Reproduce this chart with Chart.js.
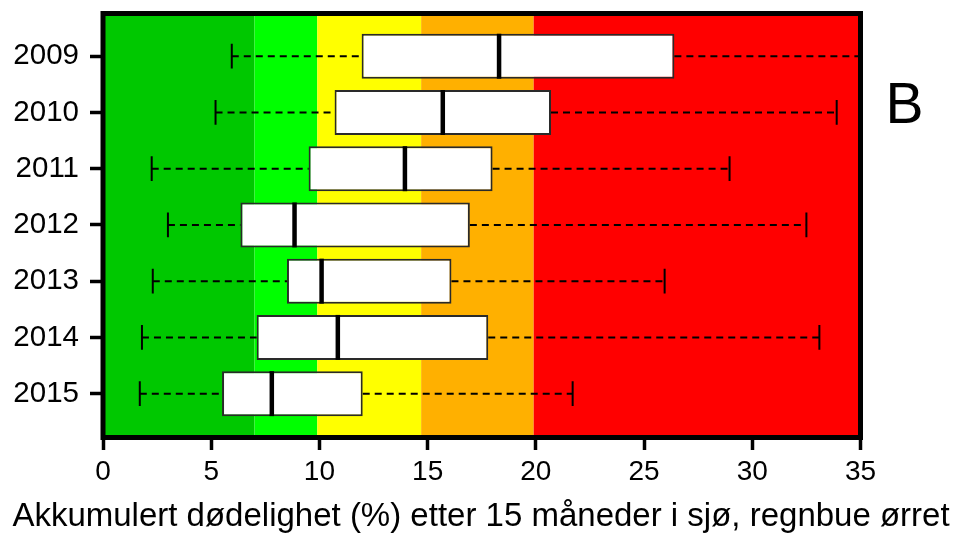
<!DOCTYPE html>
<html>
<head>
<meta charset="utf-8">
<script src="https://cdn.jsdelivr.net/npm/chart.js@4.4.1/dist/chart.umd.min.js"></script>
<style>
  html, body { margin: 0; padding: 0; background: #fff; }
  canvas { display: block; }
</style>
</head>
<body>
<canvas id="chart" width="955" height="535"></canvas>
<script>
// Accumulated mortality (%) after 15 months at sea, rainbow trout, per year class
const years       = ['2009', '2010', '2011', '2012', '2013', '2014', '2015'];
const whiskerLow  = [5.95, 5.2, 2.25, 3.0, 2.3, 1.8, 1.7];
const q1          = [11.95, 10.7, 9.5, 6.35, 8.5, 7.1, 5.5];
const median      = [18.3, 15.7, 13.95, 8.85, 10.1, 10.85, 7.8];
const q3          = [26.4, 20.7, 18.0, 16.95, 16.1, 17.8, 12.0];
const whiskerHigh = [36.5, 33.9, 28.95, 32.5, 25.95, 33.1, 21.7];

// Risk zones along the mortality axis
const bandEdges  = [0, 7, 9.9, 14.7, 19.9, 35];
const bandColors = ['#00c800', '#00ff00', '#ffff00', '#ffb000', '#ff0000'];

const xTicks     = [0, 5, 10, 15, 20, 25, 30, 35];
const panelLabel = 'B';
const xTitle     = 'Akkumulert dødelighet (%) etter 15 måneder i sjø, regnbue ørret';

const FONT = "'Liberation Sans', Arial, sans-serif";

const boxExtras = {
  id: 'boxExtras',
  beforeDatasetsDraw(chart) {
    const { ctx, chartArea: a, scales: { x, y } } = chart;
    ctx.save();
    // coloured zones
    for (let i = 0; i < bandColors.length; i++) {
      const x0 = x.getPixelForValue(bandEdges[i]);
      const x1 = x.getPixelForValue(bandEdges[i + 1]);
      ctx.fillStyle = bandColors[i];
      ctx.fillRect(x0, a.top, x1 - x0, a.bottom - a.top);
    }
    // whiskers (dashed) with end caps
    ctx.beginPath();
    ctx.rect(a.left, a.top, a.right - a.left, a.bottom - a.top);
    ctx.clip();
    ctx.strokeStyle = '#000';
    ctx.lineWidth = 2;
    years.forEach((_, i) => {
      const yc = y.getPixelForValue(i);
      const capHalf = Math.abs(y.getPixelForValue(i + 0.22) - yc);
      const xl = x.getPixelForValue(whiskerLow[i]);
      const xq1 = x.getPixelForValue(q1[i]);
      const xq3 = x.getPixelForValue(q3[i]);
      const xh = x.getPixelForValue(whiskerHigh[i]);
      ctx.setLineDash([7, 5]);
      ctx.beginPath();
      ctx.moveTo(xl, yc); ctx.lineTo(xq1, yc);
      ctx.moveTo(xq3, yc); ctx.lineTo(xh, yc);
      ctx.stroke();
      ctx.setLineDash([]);
      ctx.beginPath();
      ctx.moveTo(xl, yc - capHalf); ctx.lineTo(xl, yc + capHalf);
      ctx.moveTo(xh, yc - capHalf); ctx.lineTo(xh, yc + capHalf);
      ctx.stroke();
    });
    ctx.restore();
  },
  afterDatasetsDraw(chart) {
    const { ctx, scales: { x, y } } = chart;
    const meta = chart.getDatasetMeta(0);
    ctx.save();
    ctx.strokeStyle = '#000';
    ctx.lineWidth = 4.5;
    years.forEach((_, i) => {
      const bar = meta.data[i];
      const yc = y.getPixelForValue(i);
      const half = bar.height / 2;
      const xm = x.getPixelForValue(median[i]);
      ctx.beginPath();
      ctx.moveTo(xm, yc - half);
      ctx.lineTo(xm, yc + half);
      ctx.stroke();
    });
    ctx.restore();
  },
  afterDraw(chart) {
    const { ctx, chartArea: a } = chart;
    ctx.save();
    ctx.strokeStyle = '#000';
    ctx.lineWidth = 5;
    ctx.strokeRect(a.left, a.top, a.right - a.left, a.bottom - a.top);
    ctx.fillStyle = '#000';
    ctx.textAlign = 'center';
    ctx.textBaseline = 'alphabetic';
    ctx.font = '57px ' + FONT;
    ctx.fillText(panelLabel, 904.5, 123);
    // axis title, wider than the plot area, so drawn here without squeezing
    ctx.font = '33px ' + FONT;
    ctx.fillText(xTitle, 481, 525.5);
    ctx.restore();
  }
};

new Chart(document.getElementById('chart'), {
  type: 'bar',
  data: {
    datasets: [{
      data: years.map((_, i) => ({ x: [q1[i], q3[i]], y: i })),
      backgroundColor: '#ffffff',
      borderColor: '#2a2a2a',
      borderWidth: 2,
      borderSkipped: false,
      barPercentage: 0.8,
      categoryPercentage: 1.0
    }]
  },
  options: {
    indexAxis: 'y',
    responsive: false,
    animation: false,
    events: [],
    layout: { padding: { top: 13.5, right: 94.5, left: 0, bottom: 0 } },
    plugins: { legend: { display: false }, tooltip: { enabled: false } },
    scales: {
      x: {
        type: 'linear',
        min: xTicks[0],
        max: xTicks[xTicks.length - 1],
        afterBuildTicks: (s) => { s.ticks = xTicks.map(v => ({ value: v })); },
        afterFit: (s) => { s.height = 97.5; s.paddingLeft = 0; s.paddingRight = 0; },
        grid: { drawOnChartArea: false, tickLength: 12.5, tickWidth: 3.5, tickColor: '#000' },
        border: { display: false },
        ticks: { color: '#000', padding: 5, font: { family: FONT, size: 28 } }
      },
      y: {
        type: 'linear',
        reverse: true,
        offset: false,
        min: -0.76,
        max: 6.78,
        afterBuildTicks: (s) => { s.ticks = years.map((_, i) => ({ value: i })); },
        afterFit: (s) => { s.width = 103; s.paddingTop = 0; s.paddingBottom = 0; },
        grid: { offset: false, drawOnChartArea: false, tickLength: 13, tickWidth: 3.5, tickColor: '#000' },
        border: { display: false },
        ticks: {
          color: '#000',
          padding: 11,
          font: { family: FONT, size: 29.5 },
          callback: (v) => years[v]
        }
      }
    }
  },
  plugins: [boxExtras]
});
</script>
</body>
</html>
